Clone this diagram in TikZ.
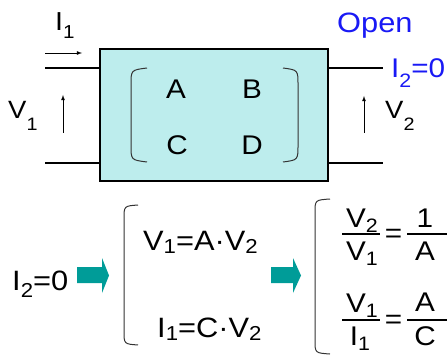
\documentclass[tikz,border=0pt]{standalone}
\usepackage{fontspec}
\setmainfont{Liberation Sans}
\usepackage{graphicx}

\definecolor{boxcyan}{RGB}{189,237,237}
\definecolor{arrowteal}{RGB}{0,156,152}
\definecolor{openblue}{RGB}{25,25,245}

% lowered, smaller index
\newcommand{\lo}[2][0.3em]{\raisebox{-#1}{\scalebox{0.72}{#2}}}
% slightly widened lettering
\newcommand{\wide}[1]{\scalebox{1.1}[1]{#1}}

\tikzset{
  lead/.style={line width=1.2pt},
  bracket/.style={line width=1pt, black!80},
  label/.style={anchor=base west, inner sep=0},
  frac/.style={anchor=base, inner sep=0, font=\fontsize{27}{30}\selectfont},
  fracbar/.style={line width=1.1pt},
  fatarrow/.style={fill=arrowteal, draw=none}
}

\begin{document}
\begin{tikzpicture}[x=1pt,y=-1pt]
\useasboundingbox (0,0) rectangle (447,358);

% Two-port box
\node[draw, line width=1.6pt, fill=boxcyan, minimum width=228pt,
      minimum height=132pt, inner sep=0] (net) at (214,115) {};

% Port leads
\coordinate (inT) at (45,68);
\coordinate (inB) at (45,163);
\coordinate (outT) at (383,68);
\coordinate (outB) at (383,163);
\draw[lead] (inT) -- (inT -| net.west);
\draw[lead] (inB) -- (inB -| net.west);
\draw[lead] (outT -| net.east) -- (outT);
\draw[lead] (outB -| net.east) -- (outB);

% Current and voltage arrows
\coordinate (iA) at (45,53);  \coordinate (iB) at (82,53);
\coordinate (vA) at (63,133); \coordinate (vB) at (63,95);
\coordinate (wA) at (364,133); \coordinate (wB) at (364,96);
\draw[->, >=latex, line width=0.8pt] (iA) -- (iB);
\draw[->, >=latex, line width=0.8pt] (vA) -- (vB);
\draw[->, >=latex, line width=0.8pt] (wA) -- (wB);

% Port labels
\node[label, font=\fontsize{26}{30}\selectfont] (curI) at (55,31) {\wide{I\lo[0.3em]{1}}};
\node[label, font=\fontsize{25}{30}\selectfont] (volA) at (8,119) {\wide{V\lo[0.45em]{1}}};
\node[label, font=\fontsize{25}{30}\selectfont] (volB) at (385,119) {\wide{V\lo[0.45em]{2}}};
\node[label, font=\fontsize{28}{32}\selectfont, text=openblue] (open) at (337,33) {\wide{Open}};
\node[label, font=\fontsize{27}{30}\selectfont, text=openblue] (zero) at (391,78) {\wide{I\lo[0.35em]{2}=0}};

% ABCD matrix
\foreach \t/\x/\y in {A/176/99, B/252/99, C/177/155, D/252/155}
  \node[anchor=base, inner sep=0, font=\fontsize{27}{30}\selectfont] (m\t) at (\x,\y) {\wide{\t}};
\draw[bracket] (147,68) .. controls (131,70) .. (131,85) -- (131,145)
  .. controls (131,160) .. (147,162);
\draw[bracket] (283,68) .. controls (298,70) .. (298,85) -- (298,145)
  .. controls (298,160) .. (283,162);

% Open-circuit condition
\node[label, font=\fontsize{28}{32}\selectfont] (cond) at (12,290) {\wide{I\lo[0.25em]{2}=0}};
\fill[fatarrow] (77,267) -- (102,267) -- (102,258) -- (109,275.5)
  -- (102,293) -- (102,283) -- (77,283) -- cycle;
\draw[bracket] (138,205) .. controls (124,206) .. (124,219) -- (124,331)
  .. controls (124,344) .. (138,345);
\node[label, font=\fontsize{28}{32}\selectfont] (eqV) at (143,250) {\wide{V\lo[0.12em]{1}=A·V\lo[0.12em]{2}}};
\node[label, font=\fontsize{28}{32}\selectfont] (eqI) at (157,337) {\wide{I\lo[0.12em]{1}=C·V\lo[0.12em]{2}}};

% Resulting ratios
\fill[fatarrow] (271,267) -- (293,267) -- (293,258) -- (301,275.5)
  -- (293,293) -- (293,283) -- (271,283) -- cycle;
\draw[bracket] (330,199) .. controls (315,200) .. (315,213) -- (315,340)
  .. controls (315,353) .. (330,354);

% V2/V1 = 1/A
\node[frac] (numV) at (362,227) {\wide{V\lo[0.2em]{2}}};
\node[frac] (denV) at (362,260) {\wide{V\lo[0.2em]{1}}};
\draw[fracbar] (342,234) -- (380,234);
\node[frac, anchor=center] (eqa) at (393.5,236) {\wide{=}};
\node[frac] (numA) at (425,227) {\wide{1}};
\node[frac] (denA) at (425,260) {\wide{A}};
\draw[fracbar] (407,234) -- (452,234);

% V1/I1 = A/C
\node[frac] (numW) at (362,312) {\wide{V\lo[0.2em]{1}}};
\node[frac] (denI) at (360,345) {\wide{I\lo[0.2em]{1}}};
\draw[fracbar] (342,320) -- (380,320);
\node[frac, anchor=center] (eqb) at (393.5,322) {\wide{=}};
\node[frac] (numB) at (425,311) {\wide{A}};
\node[frac] (denC) at (425,345) {\wide{C}};
\draw[fracbar] (407,320) -- (452,320);

\end{tikzpicture}
\end{document}
